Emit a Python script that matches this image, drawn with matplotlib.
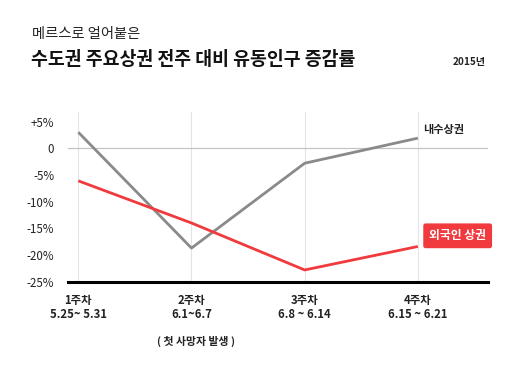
import matplotlib
matplotlib.use("Agg")
import matplotlib.pyplot as plt

plt.rcParams['font.family'] = ['Noto Sans CJK KR', 'DejaVu Sans']

# DATA --->
weeks = ['1주차\n5.25~ 5.31', '2주차\n6.1~6.7', '3주차\n6.8 ~ 6.14', '4주차\n6.15 ~ 6.21']
domestic = [3.0, -18.7, -2.8, 1.9]      # 내수상권
foreign = [-6.1, -14.0, -22.8, -18.4]   # 외국인 상권
yticks = [5, 0, -5, -10, -15, -20, -25]
ytick_labels = ['+5%', '0', '-5%', '-10%', '-15%', '-20%', '-25%']
# <--- DATA

col_gray = '#8a8a8a'
col_red = '#f03a3d'
col_text = '#222222'

fig = plt.figure(figsize=(5.2, 3.65), dpi=100)
ax = fig.add_axes([0.1308, 0.2282, 0.8077, 0.465])

x = list(range(len(weeks)))

for xi in x:
    ax.axvline(xi, color='#e4e4e4', linewidth=0.8, zorder=0)
ax.axhline(0, color='#c4c4c4', linewidth=0.9, zorder=0)

ax.plot(x, domestic, color=col_gray, linewidth=2.0, solid_capstyle='butt', zorder=3)
ax.plot(x, foreign, color=col_red, linewidth=2.0, solid_capstyle='butt', zorder=3)

ax.set_xlim(-0.091, 3.62)
ax.set_ylim(-25, 6.8)

ax.set_yticks(yticks)
ax.set_yticklabels(ytick_labels, fontsize=8.3, color=col_text, fontweight='medium')
ax.set_xticks(x)
ax.set_xticklabels(weeks, fontsize=8.2, color=col_text, fontweight='bold', linespacing=1.1)
ax.tick_params(axis='both', length=0)
ax.tick_params(axis='y', pad=10)
ax.tick_params(axis='x', pad=9)

for s in ['top', 'right', 'left']:
    ax.spines[s].set_visible(False)
ax.spines['bottom'].set_color('black')
ax.spines['bottom'].set_linewidth(2.2)

# series labels
ax.text(3.05, domestic[3] + 1.6, '내수상권', fontsize=8, fontweight='bold',
        color=col_text, ha='left', va='center')
ax.text(3.1, -16.4, '외국인 상권', fontsize=8.5, fontweight='bold', color='white',
        ha='left', va='center',
        bbox=dict(boxstyle='round,pad=0.5,rounding_size=0.2', fc=col_red, ec='none'))

ax.text(1.04, -36.2, '( 첫 사망자 발생 )', fontsize=7.8, fontweight='bold',
        color=col_text, ha='center', va='center')

# titles
fig.text(0.062, 0.907, '메르스로 얼어붙은', fontsize=10.3, color=col_text,
         fontweight='medium', va='center')
fig.text(0.060, 0.838, '수도권 주요상권 전주 대비 유동인구 증감률', fontsize=13.2,
         color='#111111', fontweight='bold', va='center')
fig.text(0.934, 0.83, '2015년', fontsize=7.2, color=col_text,
         fontweight='bold', va='center', ha='right')

fig.savefig('out.png', dpi=100, facecolor='white')
plt.close(fig)
